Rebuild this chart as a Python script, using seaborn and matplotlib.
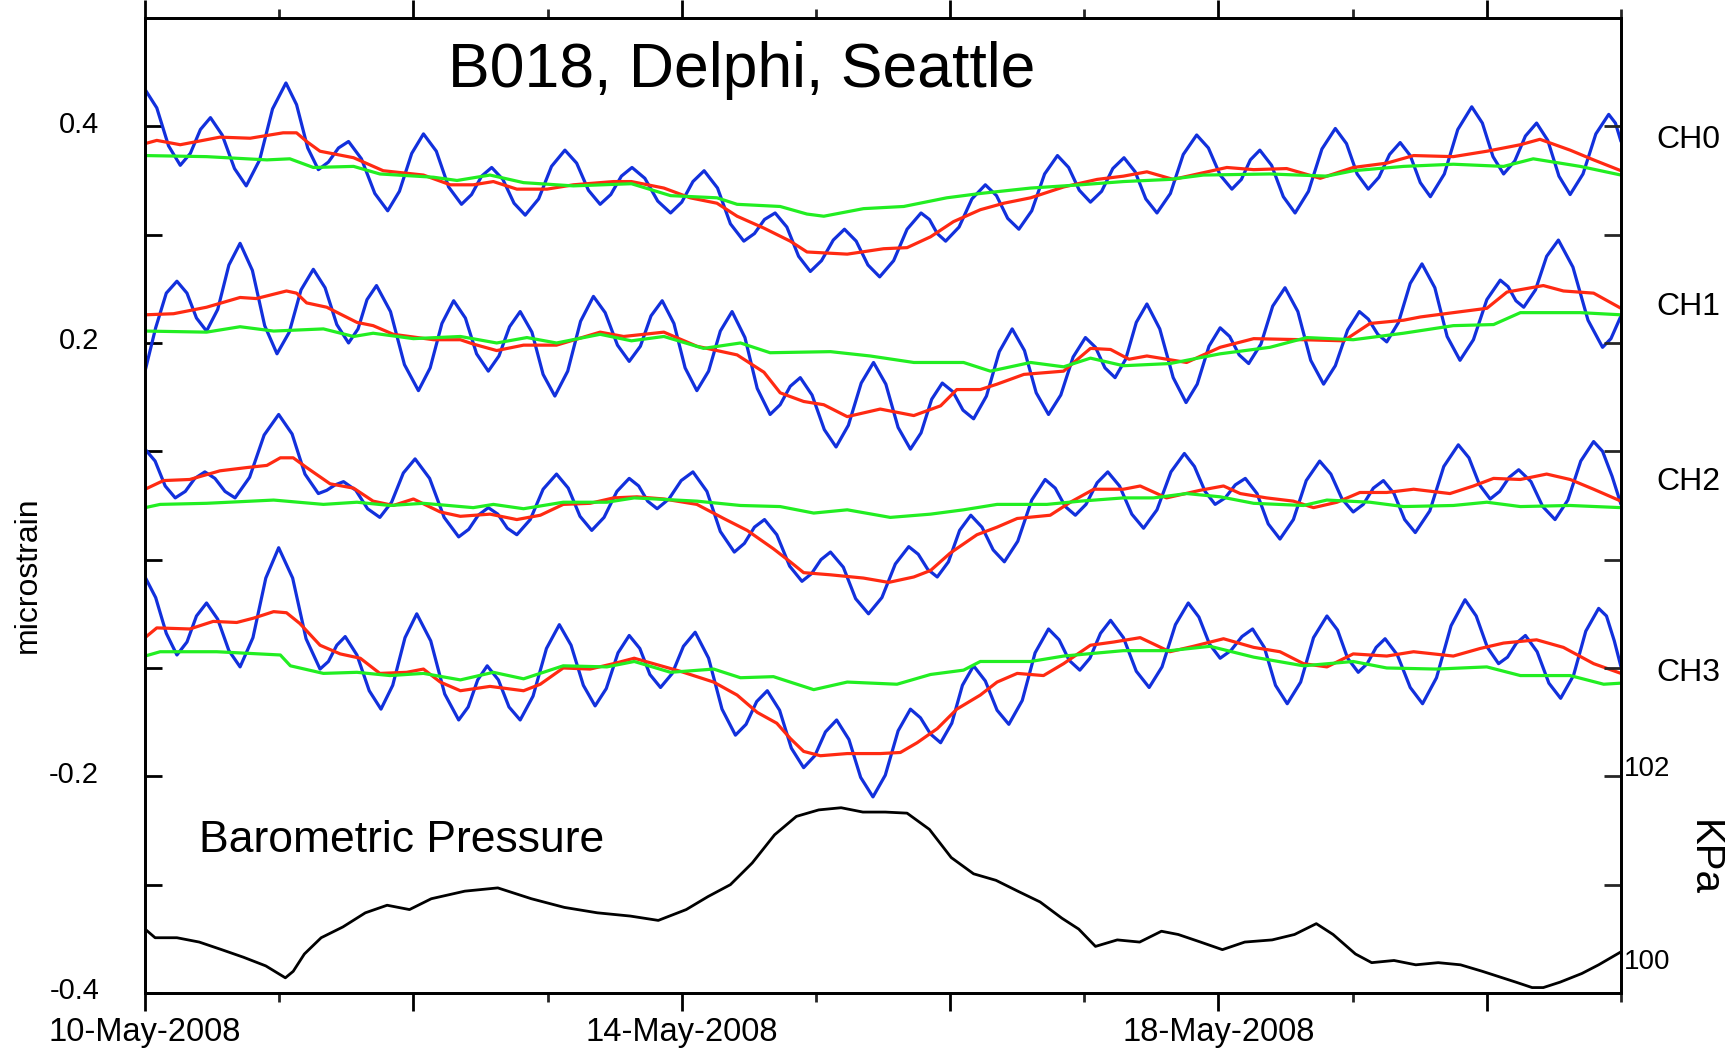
import numpy as np
import pandas as pd
import matplotlib
matplotlib.use('Agg')
import matplotlib.pyplot as plt
import matplotlib.dates as mdates
import matplotlib.transforms as mtransforms
from matplotlib.ticker import FixedLocator, FuncFormatter
import seaborn as sns

# time axis: hours after 10-May-2008 00:00
start = pd.Timestamp('2008-05-10')

# strain series, (hour, microstrain) pairs
ch0_blue = [(0, 0.434), (2.1, 0.417), (4.2, 0.382), (6.3, 0.364), (8.1, 0.375), (9.9, 0.397), (11.7, 0.408),
            (13.8, 0.392), (16.0, 0.361), (18.1, 0.345), (20.5, 0.369), (22.8, 0.416), (25.2, 0.440),
            (27.1, 0.420), (29.1, 0.380), (31.0, 0.360), (32.8, 0.367), (34.6, 0.380), (36.4, 0.386),
            (38.7, 0.370), (41.1, 0.338), (43.4, 0.322), (45.5, 0.340), (47.7, 0.375), (49.8, 0.393),
            (52.1, 0.377), (54.3, 0.344), (56.6, 0.328), (58.4, 0.337), (60.2, 0.354), (62.0, 0.362),
            (64.0, 0.351), (66.0, 0.329), (68.0, 0.318), (70.4, 0.333), (72.7, 0.363), (75.1, 0.378),
            (77.2, 0.366), (79.3, 0.341), (81.4, 0.328), (83.3, 0.337), (85.2, 0.354), (87.1, 0.362),
            (89.4, 0.352), (91.7, 0.331), (94.0, 0.320), (96.0, 0.330), (98.0, 0.349), (100.0, 0.359),
            (102.4, 0.343), (104.7, 0.310), (107.1, 0.294), (109.0, 0.301), (110.8, 0.314), (112.7, 0.320),
            (114.8, 0.307), (116.9, 0.280), (119.0, 0.266), (121.0, 0.276), (123.1, 0.295), (125.1, 0.305),
            (127.2, 0.294), (129.3, 0.272), (131.4, 0.261), (133.9, 0.276), (136.3, 0.305), (138.8, 0.320),
            (140.3, 0.314), (141.7, 0.301), (143.2, 0.294), (145.6, 0.307), (147.9, 0.333), (150.3, 0.346),
            (152.3, 0.336), (154.3, 0.315), (156.3, 0.305), (158.6, 0.322), (160.9, 0.356), (163.2, 0.373),
            (165.2, 0.362), (167.1, 0.341), (169.1, 0.330), (171.1, 0.340), (173.1, 0.361), (175.1, 0.371),
            (177.1, 0.358), (179.0, 0.333), (181.0, 0.320), (183.4, 0.338), (185.7, 0.374), (188.1, 0.392),
            (190.2, 0.380), (192.3, 0.355), (194.4, 0.342), (196.1, 0.351), (197.7, 0.369), (199.4, 0.378),
            (201.5, 0.364), (203.6, 0.335), (205.7, 0.320), (208.1, 0.340), (210.5, 0.379), (212.9, 0.398),
            (214.9, 0.384), (216.8, 0.356), (218.8, 0.342), (220.7, 0.353), (222.6, 0.374), (224.5, 0.385),
            (226.3, 0.373), (228.1, 0.348), (229.9, 0.335), (232.4, 0.356), (234.8, 0.397), (237.3, 0.418),
            (239.2, 0.403), (241.1, 0.372), (243.0, 0.356), (245.0, 0.368), (246.9, 0.391), (248.9, 0.403),
            (250.9, 0.387), (252.9, 0.354), (254.9, 0.337), (257.2, 0.356), (259.5, 0.393), (261.8, 0.411),
            (263.0, 0.403), (264.0, 0.386)]
ch0_red = [(0, 0.384), (2.1, 0.387), (6.3, 0.383), (13.4, 0.390), (18.8, 0.389), (24.7, 0.394),
           (27.1, 0.394), (28.9, 0.386), (31.3, 0.377), (37.3, 0.371), (42.6, 0.359), (49.8, 0.355),
           (54.6, 0.346), (58.7, 0.346), (62.3, 0.349), (66.5, 0.342), (71.9, 0.342), (76.6, 0.346),
           (83.8, 0.349), (87.0, 0.349), (92.8, 0.343), (97.5, 0.334), (102.3, 0.329), (105.9, 0.317),
           (110.7, 0.306), (115.4, 0.294), (118.4, 0.284), (125.6, 0.282), (132.1, 0.287), (136.3, 0.288),
           (140.5, 0.298), (144.6, 0.312), (149.4, 0.323), (153.6, 0.329), (158.4, 0.334), (164.3, 0.344),
           (170.3, 0.351), (175.0, 0.354), (179.2, 0.358), (183.9, 0.351), (193.5, 0.362), (198.3, 0.360),
           (204.2, 0.361), (210.2, 0.352), (216.1, 0.362), (222.1, 0.366), (226.9, 0.373), (234.0, 0.372),
           (240.0, 0.377), (246.0, 0.383), (249.5, 0.388), (254.9, 0.378), (259.1, 0.369), (264.0, 0.359)]
ch0_green = [(0, 0.373), (11.0, 0.372), (21.8, 0.369), (25.9, 0.370), (30.1, 0.362), (37.3, 0.363),
             (42.0, 0.356), (51.6, 0.353), (55.8, 0.350), (61.7, 0.355), (67.7, 0.348), (76.6, 0.345),
             (87.0, 0.347), (94.0, 0.336), (102.3, 0.334), (105.9, 0.328), (113.6, 0.326), (118.4, 0.319),
             (121.4, 0.317), (128.5, 0.324), (135.7, 0.326), (143.4, 0.334), (149.4, 0.338), (158.4, 0.343),
             (167.3, 0.346), (175.0, 0.349), (183.3, 0.351), (189.3, 0.355), (201.2, 0.356), (211.4, 0.354),
             (216.1, 0.359), (225.1, 0.363), (234.0, 0.365), (243.0, 0.363), (248.3, 0.370), (256.7, 0.363),
             (264.0, 0.355)]

ch1_blue = [(0, 0.174), (1.9, 0.214), (3.8, 0.246), (5.7, 0.257), (7.5, 0.246), (9.2, 0.223), (11.0, 0.211),
            (13.0, 0.231), (15.0, 0.272), (17.0, 0.292), (19.2, 0.267), (21.4, 0.216), (23.6, 0.190),
            (25.8, 0.210), (27.9, 0.249), (30.1, 0.268), (32.2, 0.251), (34.3, 0.217), (36.4, 0.200),
            (38.1, 0.213), (39.7, 0.240), (41.4, 0.253), (43.9, 0.229), (46.4, 0.180), (48.9, 0.156),
            (51.0, 0.177), (53.1, 0.218), (55.2, 0.239), (57.3, 0.223), (59.3, 0.190), (61.4, 0.174),
            (63.3, 0.188), (65.2, 0.215), (67.1, 0.229), (69.2, 0.210), (71.2, 0.171), (73.3, 0.151),
            (75.6, 0.174), (77.9, 0.220), (80.2, 0.243), (82.3, 0.228), (84.5, 0.198), (86.6, 0.183),
            (88.6, 0.197), (90.5, 0.225), (92.5, 0.239), (94.6, 0.218), (96.6, 0.177), (98.7, 0.156),
            (100.8, 0.174), (102.9, 0.211), (105.0, 0.229), (107.3, 0.205), (109.5, 0.158), (111.8, 0.134),
            (113.6, 0.143), (115.4, 0.160), (117.2, 0.168), (119.3, 0.152), (121.5, 0.120), (123.6, 0.104),
            (125.8, 0.124), (128.1, 0.163), (130.3, 0.182), (132.5, 0.162), (134.7, 0.122), (136.9, 0.102),
            (138.8, 0.117), (140.7, 0.148), (142.6, 0.163), (144.5, 0.155), (146.3, 0.138), (148.2, 0.130),
            (150.5, 0.151), (152.8, 0.192), (155.1, 0.213), (157.3, 0.193), (159.4, 0.154), (161.6, 0.134),
            (163.8, 0.152), (166.0, 0.187), (168.2, 0.205), (170.0, 0.196), (171.7, 0.177), (173.5, 0.168),
            (175.4, 0.185), (177.3, 0.219), (179.2, 0.236), (181.5, 0.213), (183.9, 0.168), (186.2, 0.145),
            (188.2, 0.162), (190.3, 0.197), (192.3, 0.214), (194.0, 0.206), (195.7, 0.189), (197.4, 0.181),
            (199.6, 0.199), (201.7, 0.234), (203.9, 0.251), (206.2, 0.229), (208.5, 0.184), (210.8, 0.162),
            (212.9, 0.179), (215.1, 0.212), (217.2, 0.229), (218.8, 0.222), (220.5, 0.208), (222.1, 0.201),
            (224.2, 0.219), (226.3, 0.255), (228.4, 0.273), (230.7, 0.251), (232.9, 0.206), (235.2, 0.184),
            (237.6, 0.203), (240.0, 0.240), (242.4, 0.258), (243.8, 0.252), (245.2, 0.239), (246.6, 0.233),
            (248.7, 0.249), (250.7, 0.280), (252.8, 0.295), (255.4, 0.270), (258.1, 0.221), (260.7, 0.196),
            (262.2, 0.204), (264.0, 0.225)]
ch1_red = [(0, 0.226), (5.1, 0.227), (11.0, 0.233), (17.0, 0.242), (19.9, 0.241), (25.3, 0.248),
           (27.1, 0.246), (28.9, 0.237), (32.5, 0.233), (37.9, 0.219), (40.8, 0.216), (44.4, 0.208),
           (51.6, 0.203), (56.4, 0.203), (58.7, 0.199), (62.9, 0.193), (67.7, 0.198), (73.6, 0.198),
           (81.4, 0.210), (85.6, 0.206), (92.8, 0.210), (98.7, 0.197), (105.9, 0.189), (110.7, 0.173),
           (113.6, 0.154), (117.8, 0.146), (121.4, 0.143), (125.6, 0.132), (131.5, 0.139), (137.5, 0.133),
           (142.3, 0.142), (145.2, 0.157), (149.4, 0.157), (152.4, 0.162), (157.2, 0.171), (164.3, 0.174),
           (169.1, 0.195), (172.7, 0.194), (176.0, 0.185), (179.2, 0.188), (186.3, 0.182), (192.3, 0.196),
           (198.3, 0.204), (207.2, 0.203), (214.4, 0.202), (219.1, 0.218), (225.1, 0.221), (228.1, 0.224),
           (234.0, 0.228), (240.0, 0.232), (243.6, 0.247), (250.1, 0.253), (253.7, 0.248), (259.1, 0.246),
           (264.0, 0.232)]
ch1_green = [(0, 0.211), (11.0, 0.210), (17.0, 0.215), (23.0, 0.211), (31.9, 0.213), (37.3, 0.206),
             (40.8, 0.209), (48.0, 0.204), (56.4, 0.206), (62.9, 0.200), (68.3, 0.205), (73.6, 0.200),
             (81.4, 0.208), (87.0, 0.202), (92.8, 0.206), (99.9, 0.195), (106.5, 0.200), (111.8, 0.191),
             (122.6, 0.192), (129.7, 0.188), (137.5, 0.182), (146.4, 0.182), (151.2, 0.174), (158.4, 0.182),
             (164.3, 0.178), (169.1, 0.186), (175.0, 0.179), (183.3, 0.181), (192.3, 0.190), (201.2, 0.196),
             (207.8, 0.205), (216.1, 0.203), (225.1, 0.209), (234.0, 0.216), (241.2, 0.217), (246.0, 0.228),
             (256.7, 0.228), (264.0, 0.226)]

ch2_blue = [(0, 0.102), (1.8, 0.091), (3.6, 0.068), (5.4, 0.057), (7.2, 0.063), (8.9, 0.075), (10.7, 0.081),
            (12.5, 0.075), (14.3, 0.063), (16.1, 0.057), (18.7, 0.076), (21.3, 0.115), (23.9, 0.134),
            (26.3, 0.116), (28.6, 0.079), (31.0, 0.061), (32.5, 0.064), (34.0, 0.069), (35.5, 0.072),
            (37.7, 0.064), (39.8, 0.047), (42.0, 0.039), (44.1, 0.053), (46.2, 0.080), (48.3, 0.093),
            (50.9, 0.075), (53.5, 0.039), (56.1, 0.021), (57.9, 0.028), (59.6, 0.041), (61.4, 0.048),
            (63.1, 0.042), (64.8, 0.029), (66.5, 0.023), (68.9, 0.037), (71.2, 0.065), (73.6, 0.079),
            (75.7, 0.066), (77.8, 0.040), (79.9, 0.027), (82.1, 0.039), (84.4, 0.063), (86.6, 0.075),
            (88.3, 0.068), (89.9, 0.054), (91.6, 0.047), (93.7, 0.056), (95.9, 0.073), (98.0, 0.081),
            (100.5, 0.063), (102.9, 0.026), (105.4, 0.007), (107.2, 0.015), (109.0, 0.030), (110.8, 0.037),
            (113.0, 0.023), (115.3, -0.006), (117.5, -0.020), (119.2, -0.013), (120.9, 0.000), (122.6, 0.007),
            (124.9, -0.007), (127.1, -0.036), (129.4, -0.050), (131.8, -0.035), (134.2, -0.004), (136.6, 0.012),
            (138.3, 0.005), (140.0, -0.009), (141.7, -0.016), (143.7, -0.002), (145.7, 0.027), (147.7, 0.041),
            (149.7, 0.030), (151.7, 0.009), (153.7, -0.002), (156.1, 0.017), (158.6, 0.055), (161.0, 0.074),
            (162.8, 0.066), (164.6, 0.049), (166.4, 0.041), (168.3, 0.051), (170.3, 0.071), (172.2, 0.081),
            (174.3, 0.068), (176.5, 0.042), (178.6, 0.029), (181.0, 0.046), (183.5, 0.081), (185.9, 0.098),
            (187.7, 0.086), (189.6, 0.063), (191.4, 0.051), (193.2, 0.057), (195.0, 0.069), (196.8, 0.075),
            (198.9, 0.061), (200.9, 0.033), (203.0, 0.019), (205.4, 0.037), (207.7, 0.073), (210.1, 0.091),
            (212.1, 0.079), (214.1, 0.056), (216.1, 0.044), (217.9, 0.051), (219.7, 0.066), (221.5, 0.073),
            (223.4, 0.061), (225.3, 0.037), (227.2, 0.025), (229.8, 0.045), (232.3, 0.086), (234.9, 0.106),
            (236.8, 0.094), (238.7, 0.069), (240.6, 0.056), (242.3, 0.063), (244.0, 0.076), (245.7, 0.083),
            (247.9, 0.072), (250.0, 0.049), (252.2, 0.037), (254.5, 0.055), (256.8, 0.091), (259.1, 0.109),
            (260.7, 0.100), (262.4, 0.077), (264.0, 0.051)]
ch2_red = [(0, 0.065), (3.3, 0.073), (8.0, 0.074), (13.4, 0.082), (18.2, 0.085), (21.8, 0.087),
           (24.2, 0.094), (26.5, 0.094), (28.9, 0.085), (33.1, 0.070), (37.3, 0.066), (40.8, 0.054),
           (44.4, 0.050), (48.0, 0.056), (50.4, 0.050), (52.8, 0.044), (56.4, 0.040), (61.7, 0.042),
           (66.5, 0.037), (70.7, 0.041), (74.8, 0.051), (79.6, 0.052), (83.8, 0.057), (88.0, 0.058),
           (92.8, 0.056), (98.7, 0.051), (103.5, 0.038), (107.7, 0.027), (112.4, 0.010), (115.4, -0.002),
           (117.8, -0.012), (122.6, -0.014), (128.5, -0.017), (133.0, -0.021), (137.5, -0.016), (140.5, -0.010),
           (144.0, 0.006), (148.8, 0.023), (152.4, 0.030), (156.0, 0.038), (161.9, 0.041), (165.5, 0.053),
           (169.7, 0.065), (175.0, 0.065), (178.0, 0.068), (182.7, 0.057), (188.7, 0.064), (192.9, 0.068),
           (195.9, 0.061), (200.6, 0.057), (205.4, 0.054), (209.0, 0.048), (213.2, 0.053), (217.3, 0.062),
           (222.1, 0.062), (226.9, 0.065), (233.4, 0.061), (237.6, 0.068), (241.2, 0.075), (246.0, 0.074),
           (250.7, 0.079), (254.9, 0.074), (259.1, 0.065), (264.0, 0.054)]
ch2_green = [(0, 0.048), (2.7, 0.051), (11.0, 0.052), (23.0, 0.055), (31.9, 0.051), (37.9, 0.053),
             (43.8, 0.050), (49.8, 0.052), (58.7, 0.048), (62.3, 0.051), (67.7, 0.047), (74.8, 0.053),
             (82.6, 0.053), (87.5, 0.057), (98.7, 0.054), (106.5, 0.050), (113.6, 0.049), (119.6, 0.043),
             (125.6, 0.046), (133.3, 0.039), (140.5, 0.042), (146.4, 0.046), (152.4, 0.051), (161.3, 0.051),
             (167.3, 0.054), (175.0, 0.057), (180.4, 0.057), (186.3, 0.061), (192.3, 0.058), (198.3, 0.052),
             (207.2, 0.050), (211.4, 0.055), (219.1, 0.053), (225.1, 0.049), (234.0, 0.050), (240.0, 0.053),
             (246.0, 0.049), (254.9, 0.050), (264.0, 0.048)]

ch3_blue = [(0, -0.016), (1.9, -0.035), (3.8, -0.068), (5.7, -0.088), (7.5, -0.076), (9.2, -0.052),
            (11.0, -0.040), (13.0, -0.055), (15.0, -0.084), (17.0, -0.099), (19.3, -0.072), (21.6, -0.017),
            (23.9, 0.011), (26.4, -0.017), (28.8, -0.073), (31.3, -0.101), (32.8, -0.094), (34.3, -0.079),
            (35.8, -0.071), (37.9, -0.088), (40.1, -0.121), (42.2, -0.138), (44.3, -0.116), (46.5, -0.072),
            (48.6, -0.050), (51.1, -0.075), (53.6, -0.124), (56.1, -0.148), (57.8, -0.136), (59.5, -0.111),
            (61.2, -0.098), (63.2, -0.111), (65.1, -0.136), (67.1, -0.148), (69.4, -0.126), (71.8, -0.082),
            (74.1, -0.060), (76.2, -0.079), (78.4, -0.116), (80.5, -0.135), (82.5, -0.119), (84.6, -0.086),
            (86.6, -0.070), (88.5, -0.082), (90.3, -0.106), (92.2, -0.118), (94.3, -0.105), (96.3, -0.080),
            (98.4, -0.067), (100.8, -0.091), (103.2, -0.138), (105.6, -0.162), (107.5, -0.152), (109.4, -0.131),
            (111.3, -0.121), (113.5, -0.139), (115.6, -0.174), (117.8, -0.192), (119.8, -0.181), (121.7, -0.159),
            (123.7, -0.148), (125.9, -0.166), (128.0, -0.201), (130.2, -0.219), (132.4, -0.199), (134.7, -0.158),
            (136.9, -0.138), (138.7, -0.146), (140.5, -0.161), (142.3, -0.169), (144.3, -0.151), (146.2, -0.116),
            (148.2, -0.098), (150.3, -0.112), (152.4, -0.139), (154.5, -0.152), (156.9, -0.130), (159.2, -0.086),
            (161.6, -0.064), (163.5, -0.074), (165.3, -0.093), (167.2, -0.102), (169.0, -0.091), (170.9, -0.068),
            (172.7, -0.056), (175.0, -0.072), (177.3, -0.103), (179.6, -0.118), (181.9, -0.099), (184.3, -0.060),
            (186.6, -0.040), (188.5, -0.053), (190.4, -0.078), (192.3, -0.091), (194.2, -0.084), (196.2, -0.071),
            (198.1, -0.064), (200.2, -0.081), (202.2, -0.116), (204.3, -0.133), (206.7, -0.113), (209.0, -0.072),
            (211.4, -0.052), (213.3, -0.065), (215.1, -0.091), (217.0, -0.104), (218.6, -0.096), (220.2, -0.081),
            (221.8, -0.073), (224.0, -0.088), (226.3, -0.118), (228.5, -0.133), (231.0, -0.109), (233.6, -0.061),
            (236.1, -0.037), (238.1, -0.052), (240.1, -0.081), (242.1, -0.096), (243.7, -0.090), (245.3, -0.077),
            (246.9, -0.070), (249.0, -0.085), (251.1, -0.114), (253.2, -0.128), (255.5, -0.107), (257.7, -0.066),
            (260.0, -0.045), (261.4, -0.052), (262.8, -0.075), (264.0, -0.099)]
ch3_red = [(0, -0.072), (2.1, -0.063), (8.0, -0.064), (12.2, -0.057), (16.4, -0.058), (19.4, -0.054),
           (23.0, -0.048), (25.3, -0.049), (27.7, -0.059), (31.3, -0.079), (34.9, -0.087), (38.5, -0.091),
           (42.0, -0.105), (46.8, -0.104), (49.8, -0.101), (52.8, -0.113), (56.4, -0.121), (61.7, -0.117),
           (67.7, -0.121), (70.7, -0.115), (74.8, -0.100), (79.6, -0.101), (83.8, -0.096), (87.5, -0.091),
           (91.6, -0.097), (95.7, -0.103), (101.7, -0.113), (105.9, -0.125), (109.5, -0.141), (113.0, -0.151),
           (115.4, -0.165), (117.8, -0.177), (120.8, -0.181), (125.6, -0.179), (131.5, -0.179), (135.1, -0.178),
           (138.1, -0.169), (141.7, -0.156), (145.2, -0.138), (149.4, -0.125), (152.4, -0.113), (156.0, -0.105),
           (160.7, -0.107), (164.3, -0.096), (169.1, -0.079), (173.3, -0.076), (178.0, -0.072), (183.3, -0.085),
           (187.5, -0.080), (192.9, -0.073), (198.3, -0.081), (203.0, -0.085), (207.2, -0.096), (211.4, -0.099),
           (216.1, -0.087), (222.1, -0.089), (226.9, -0.085), (234.0, -0.089), (238.8, -0.082), (243.0, -0.077),
           (248.9, -0.074), (253.7, -0.081), (259.1, -0.096), (264.0, -0.105)]
ch3_green = [(0, -0.089), (2.7, -0.085), (12.8, -0.085), (24.2, -0.088), (26.0, -0.098), (31.9, -0.105),
             (37.9, -0.104), (43.8, -0.107), (49.8, -0.105), (56.4, -0.111), (62.3, -0.104), (67.7, -0.110),
             (74.8, -0.098), (82.6, -0.099), (87.5, -0.094), (94.0, -0.104), (101.7, -0.101), (106.5, -0.109),
             (112.4, -0.108), (119.6, -0.120), (125.6, -0.113), (134.5, -0.115), (140.5, -0.106), (146.4, -0.102),
             (149.4, -0.094), (158.4, -0.094), (164.3, -0.089), (175.0, -0.084), (183.3, -0.084), (190.5, -0.080),
             (198.3, -0.090), (207.2, -0.098), (216.1, -0.094), (222.1, -0.100), (231.0, -0.101), (240.0, -0.099),
             (246.0, -0.107), (254.9, -0.107), (260.9, -0.115), (264.0, -0.114)]

# barometric pressure, (hour, kPa)
pressure = [(0, 100.59), (1.8, 100.51), (5.7, 100.51), (9.7, 100.47), (13.7, 100.40), (17.6, 100.33),
            (21.6, 100.25), (25.1, 100.14), (26.5, 100.20), (28.5, 100.36), (31.5, 100.51), (35.4, 100.61),
            (39.4, 100.74), (43.3, 100.81), (47.3, 100.77), (51.2, 100.87), (57.2, 100.94), (63.1, 100.97),
            (69.1, 100.87), (75.0, 100.79), (80.9, 100.74), (86.8, 100.71), (91.8, 100.67), (96.8, 100.77),
            (100.7, 100.89), (104.7, 101.00), (108.6, 101.20), (112.6, 101.46), (116.5, 101.63), (120.5, 101.69),
            (124.5, 101.71), (128.4, 101.67), (132.4, 101.67), (136.3, 101.66), (140.3, 101.51), (144.2, 101.25),
            (148.2, 101.10), (152.2, 101.04), (156.1, 100.94), (160.1, 100.84), (164.0, 100.69), (167.0, 100.59),
            (170.0, 100.43), (173.9, 100.49), (177.9, 100.47), (181.8, 100.57), (184.8, 100.54), (188.8, 100.47),
            (192.7, 100.40), (196.7, 100.47), (201.6, 100.49), (205.6, 100.54), (209.5, 100.64), (212.5, 100.54),
            (216.5, 100.36), (219.4, 100.28), (223.4, 100.30), (227.3, 100.26), (231.3, 100.28), (235.3, 100.26),
            (239.2, 100.20), (242.2, 100.15), (245.2, 100.10), (248.1, 100.05), (250.1, 100.05), (253.1, 100.10),
            (257.0, 100.18), (260.0, 100.26), (264.0, 100.38)]

channels = ['CH0', 'CH1', 'CH2', 'CH3']
channel_label_y = [0.387, 0.233, 0.072, -0.105]
series = {
    'CH0': [ch0_blue, ch0_red, ch0_green],
    'CH1': [ch1_blue, ch1_red, ch1_green],
    'CH2': [ch2_blue, ch2_red, ch2_green],
    'CH3': [ch3_blue, ch3_red, ch3_green],
}
colors = ['#1230dc', '#ff2a12', '#22ee22']


def to_frame(pairs):
    df = pd.DataFrame(pairs, columns=['hour', 'value'])
    df['time'] = start + pd.to_timedelta(df['hour'], unit='h')
    return df


sns.set_theme(style='white')
plt.rcParams['font.family'] = ['Liberation Sans', 'DejaVu Sans']
plt.rcParams['text.color'] = 'black'

fig = plt.figure(figsize=(17.35, 10.51), dpi=100)
ax = fig.add_axes([0.0836, 0.0552, 0.8507, 0.9277])
ax2 = ax.twinx()

for ch in channels:
    for pairs, col in zip(series[ch], colors):
        df = to_frame(pairs)
        sns.lineplot(data=df, x='time', y='value', ax=ax, color=col, lw=2.3,
                     estimator=None, sort=False, solid_joinstyle='round')

dfp = to_frame(pressure)
sns.lineplot(data=dfp, x='time', y='value', ax=ax2, color='black', lw=2.0,
             estimator=None, sort=False)

# axes limits
t0 = start
t1 = start + pd.Timedelta(days=11)
ax.set_xlim(t0, t1)
ax.set_ylim(-0.4, 0.5)
ax2.set_ylim(100, 109)

# spines
for a in (ax, ax2):
    for s in a.spines.values():
        s.set_color('black')
        s.set_linewidth(2.0)

# y ticks
yt = np.round(np.arange(-0.4, 0.45, 0.1), 1)
ax.set_yticks(yt)
ax.set_yticklabels(['-0.4', '', '-0.2', '', '', '', '0.2', '', '0.4'])
ax.tick_params(axis='y', direction='in', length=12, width=2, pad=33, labelsize=21,
               left=True, right=False, colors='black')
ax.set_ylabel('')
lift = mtransforms.ScaledTranslation(0, 0.045, fig.dpi_scale_trans)
for lab in ax.get_yticklabels():
    lab.set_transform(lab.get_transform() + lift)

ax2.set_yticks(np.arange(101, 109, 1))
ax2.set_yticklabels([])
ax2.tick_params(axis='y', direction='in', length=12, width=2, right=True, left=False)
ax2.set_ylabel('')

# x ticks: every day, longer every two days, labels every four days
major_days = [start + pd.Timedelta(days=d) for d in range(0, 12, 2)]
minor_days = [start + pd.Timedelta(days=d) for d in range(1, 12, 2)]
ax.xaxis.set_major_locator(FixedLocator(mdates.date2num(major_days)))
ax.xaxis.set_minor_locator(FixedLocator(mdates.date2num(minor_days)))


def date_label(x, pos):
    d = mdates.num2date(x)
    if (d.day - 10) % 4 == 0:
        return d.strftime('%d-%b-%Y')
    return ''


ax.xaxis.set_major_formatter(FuncFormatter(date_label))
ax.tick_params(axis='x', which='major', direction='out', length=13, width=2,
               top=True, bottom=True, pad=4, labelsize=23.5, colors='black')
ax.tick_params(axis='x', which='minor', direction='out', length=6.5, width=2,
               top=True, bottom=True)
ax.set_xlabel('')

# texts
ax.text(0.205, 0.929, 'B018, Delphi, Seattle', transform=ax.transAxes,
        fontsize=45, va='baseline', ha='left')
ax.text(0.0366, 0.1446, 'Barometric Pressure', transform=ax.transAxes,
        fontsize=32, va='baseline', ha='left')

tr = mtransforms.blended_transform_factory(ax.transAxes, ax.transData)
for ch, yy in zip(channels, channel_label_y):
    ax.text(1.0237, yy, ch, transform=tr, fontsize=23, va='center', ha='left')

tr2 = mtransforms.blended_transform_factory(ax2.transAxes, ax2.transData)
ax2.text(1.002, 102.07, '102', transform=tr2, fontsize=20, va='center', ha='left')
ax2.text(1.002, 100.29, '100', transform=tr2, fontsize=20, va='center', ha='left')

fig.text(28 / 1735, 1 - 575 / 1051, 'microstrain', rotation=90, fontsize=23,
         ha='center', va='center')
fig.text(1704 / 1735, 1 - 858 / 1051, 'KPa', rotation=-90, fontsize=29,
         ha='center', va='center')

fig.savefig('out.png', dpi=100)
